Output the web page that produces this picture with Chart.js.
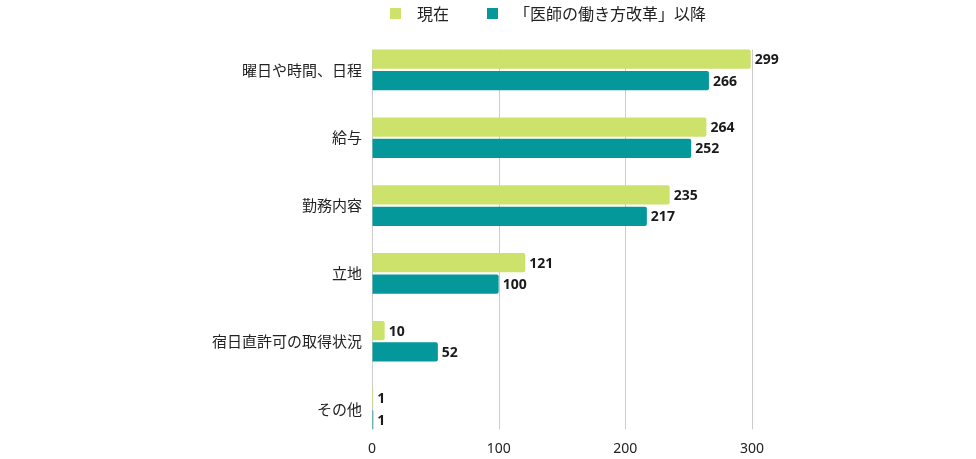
<!DOCTYPE html>
<html lang="ja">
<head>
<meta charset="utf-8">
<title>勤務先を選ぶ理由</title>
<script src="https://cdn.jsdelivr.net/npm/chart.js@4.4.1/dist/chart.umd.min.js"></script>
<style>
  html, body { margin: 0; padding: 0; background: #fff; }
  #wrap { position: relative; width: 976px; height: 459px; }
  #legend {
    position: absolute; top: 1px; left: 390px;
    display: flex; align-items: center;
    font: 16px "Noto Sans CJK JP", "Noto Sans", sans-serif; color: #222;
  }
  #legend .item { display: flex; align-items: center; margin-right: 38px; }
  #legend .box { width: 11px; height: 11px; margin-right: 16px; }
</style>
</head>
<body>
<div id="wrap">
  <canvas id="chart" width="976" height="459"></canvas>
  <div id="legend"></div>
</div>
<script>
const categories = ['曜日や時間、日程', '給与', '勤務内容', '立地', '宿日直許可の取得状況', 'その他'];
const seriesNames = ['現在', '「医師の働き方改革」以降'];
const currentValues = [299, 264, 235, 121, 10, 1];
const afterReformValues = [266, 252, 217, 100, 52, 1];
const xTicks = [0, 100, 200, 300];

const colors = ['#cce26a', '#04989b'];
const fontFamily = '"Noto Sans", "Noto Sans CJK JP", sans-serif';

// legend built from the series names
const legendEl = document.getElementById('legend');
seriesNames.forEach((name, i) => {
    const item = document.createElement('div');
    item.className = 'item';
    const box = document.createElement('span');
    box.className = 'box';
    box.style.background = colors[i];
    const label = document.createElement('span');
    label.textContent = name;
    item.appendChild(box);
    item.appendChild(label);
    legendEl.appendChild(item);
});

// vertical grid lines only span the bars, not the full chart area
const gridLines = {
    id: 'gridLines',
    beforeDatasetsDraw(chart) {
        const ctx = chart.ctx;
        const x = chart.scales.x;
        const first = chart.getDatasetMeta(0).data[0];
        const lastMeta = chart.getDatasetMeta(1).data;
        const last = lastMeta[lastMeta.length - 1];
        const top = first.y - first.height / 2;
        const bottom = last.y + last.height / 2;
        ctx.save();
        ctx.strokeStyle = '#cccccc';
        ctx.lineWidth = 1;
        xTicks.forEach(v => {
            const px = Math.round(x.getPixelForValue(v)) + 0.5;
            ctx.beginPath();
            ctx.moveTo(px, top);
            ctx.lineTo(px, bottom);
            ctx.stroke();
        });
        ctx.restore();
    }
};

// value labels at the end of each bar
const valueLabels = {
    id: 'valueLabels',
    afterDatasetsDraw(chart) {
        const ctx = chart.ctx;
        ctx.save();
        ctx.font = 'bold 14px ' + fontFamily;
        ctx.fillStyle = '#1a1a1a';
        ctx.textBaseline = 'middle';
        ctx.textAlign = 'left';
        chart.data.datasets.forEach((ds, i) => {
            chart.getDatasetMeta(i).data.forEach((bar, j) => {
                ctx.fillText(ds.data[j], bar.x + 4, bar.y + 1);
            });
        });
        ctx.restore();
    }
};

new Chart(document.getElementById('chart'), {
    type: 'bar',
    data: {
        labels: categories,
        datasets: [
            {
                label: seriesNames[0],
                data: currentValues,
                backgroundColor: colors[0],
                borderRadius: 2,
                borderSkipped: 'start',
                categoryPercentage: 0.63,
                barPercentage: 0.9
            },
            {
                label: seriesNames[1],
                data: afterReformValues,
                backgroundColor: colors[1],
                borderRadius: 2,
                borderSkipped: 'start',
                categoryPercentage: 0.63,
                barPercentage: 0.9
            }
        ]
    },
    options: {
        indexAxis: 'y',
        responsive: false,
        animation: false,
        layout: {
            padding: { top: 36, right: 224, bottom: 0, left: 0 }
        },
        plugins: {
            legend: { display: false },
            tooltip: { enabled: false }
        },
        scales: {
            x: {
                min: 0,
                max: 300,
                afterBuildTicks: scale => { scale.ticks = xTicks.map(v => ({ value: v })); },
                afterFit: scale => { scale.height = 16; },
                ticks: {
                    padding: -2,
                    color: '#222',
                    font: { family: fontFamily, size: 14 }
                },
                grid: { drawOnChartArea: false, drawTicks: false },
                border: { display: false }
            },
            y: {
                afterFit: scale => { scale.width = 372; },
                ticks: {
                    padding: 2,
                    color: '#222',
                    font: { family: '"Noto Sans CJK JP", "Noto Sans", sans-serif', size: 15 }
                },
                grid: { display: false },
                border: { display: false }
            }
        }
    },
    plugins: [gridLines, valueLabels]
});
</script>
</body>
</html>
